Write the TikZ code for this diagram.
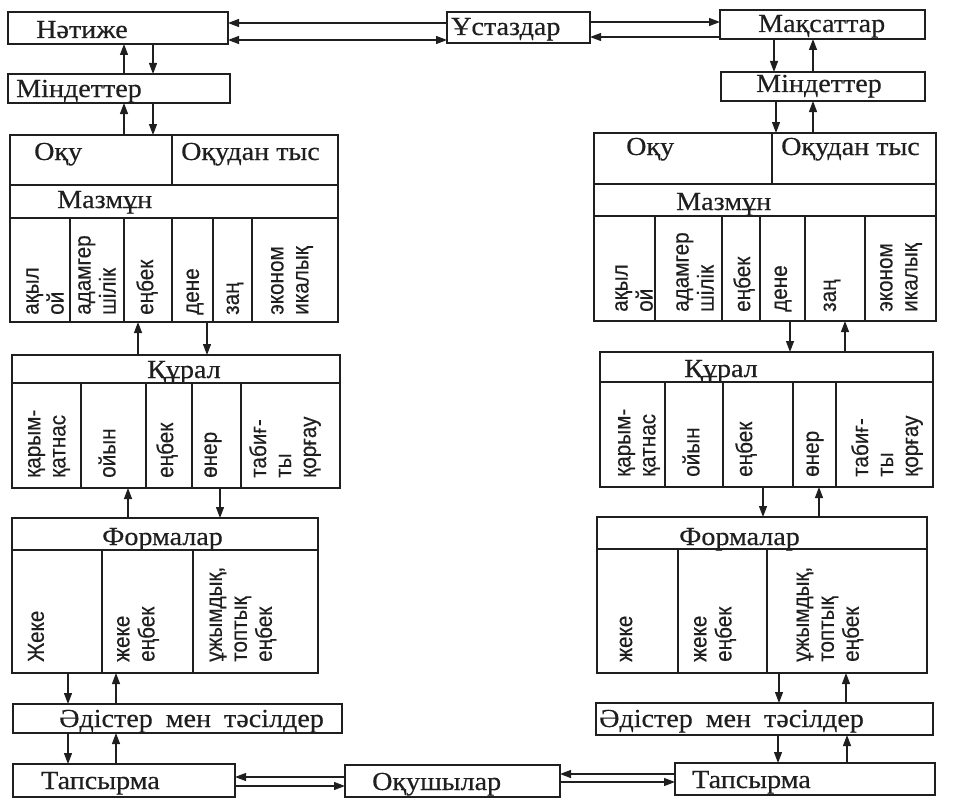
\documentclass[tikz,border=0pt]{standalone}
\usepackage{fontspec}
\setmainfont{Liberation Serif}
\newfontfamily\hfont[FakeStretch=1.08,FakeBold=0.4]{Liberation Serif}
\newfontfamily\vfont[FakeStretch=0.9,FakeBold=0.3]{Liberation Sans}
\usetikzlibrary{arrows.meta}
\definecolor{ink}{gray}{0.12}
\newcommand\bx[5]{\node[boxst, minimum width={(#4-#2)*1pt}, minimum height={(#5-#3)*1pt}] (#1) at ({(#2+#4)/2},{(#3+#5)/2}) {};}
\newcommand\hl[4]{\node[hlab] (#1) at (#2,#3) {#4};}
\newcommand\vl[4]{\node[vlab] (#1) at (#2,#3) {#4};}
\begin{document}
\begin{tikzpicture}[x=1pt,y=-1pt,
  boxst/.style={draw=ink, line width=1.4pt, inner sep=0pt, outer sep=0pt, rectangle},
  hlab/.style={anchor=base west, inner sep=0pt, font=\hfont\fontsize{26}{28}\selectfont, text=ink},
  vlab/.style={rotate=90, anchor=west, align=left, inner sep=0pt, font=\vfont\fontsize{23}{25}\selectfont, text=ink},
  arr/.style={draw=ink, line width=1.2pt, -{Triangle[length=11pt,width=8pt]}},
  darr/.style={draw=ink, line width=1.2pt, {Triangle[length=11pt,width=8pt]}-{Triangle[length=11pt,width=8pt]}}]
\useasboundingbox (0,0) rectangle (961,800);
% top row
\bx{nat}{8}{12}{228}{44}
\bx{ust}{447}{12}{590}{43}
\bx{maq}{720}{10}{925}{39}
\bx{min1}{8}{74}{230}{103}
\bx{min2}{721}{72}{925}{101}
\hl{tnat}{36}{38}{Нәтиже}
\hl{tust}{451}{35}{Ұстаздар}
\hl{tmaq}{758}{32}{Мақсаттар}
\hl{tmin1}{16}{97}{Міндеттер}
\hl{tmin2}{756}{92}{Міндеттер}
% left content block
\bx{g1}{10}{135}{338}{322}
\bx{oqu1}{10}{135}{172}{185}
\bx{tys1}{172}{135}{338}{185}
\bx{maz1}{10}{185}{338}{218}
\bx{m1a}{10}{218}{70}{322}
\bx{m1b}{70}{218}{124}{322}
\bx{m1c}{124}{218}{172}{322}
\bx{m1d}{172}{218}{213}{322}
\bx{m1e}{213}{218}{252}{322}
\bx{m1f}{252}{218}{338}{322}
\hl{toqu1}{34}{160}{Оқу}
\hl{ttys1}{181}{160}{Оқудан тыс}
\hl{tmaz1}{57}{208}{Мазмұн}
\vl{v1a}{45}{315}{ақыл\\ой}
\vl{v1b}{97}{315}{адамгер\\шілік}
\vl{v1c}{147}{315}{еңбек}
\vl{v1d}{195}{315}{дене}
\vl{v1e}{235}{315}{заң}
\vl{v1f}{292}{315}{эконом\\икалық}
% left tools block
\bx{g2}{12}{355}{340}{488}
\bx{qur1}{12}{355}{340}{383}
\bx{q1a}{12}{383}{81}{488}
\bx{q1b}{81}{383}{146}{488}
\bx{q1c}{146}{383}{192}{488}
\bx{q1d}{192}{383}{241}{488}
\bx{q1e}{241}{383}{340}{488}
\hl{tqur1}{147}{378}{Құрал}
\vl{w1a}{49}{478}{қарым-\\қатнас}
\vl{w1b}{107}{478}{ойын}
\vl{w1c}{167}{478}{еңбек}
\vl{w1d}{213}{478}{өнер}
\vl{w1e}{285}{478}{табиғ-\\ты\\қорғау}
% left forms block
\bx{g3}{12}{518}{318}{673}
\bx{frm1}{12}{518}{318}{550}
\bx{f1a}{12}{550}{102}{673}
\bx{f1b}{102}{550}{193}{673}
\bx{f1c}{193}{550}{318}{673}
\hl{tfrm1}{102}{545}{Формалар}
\vl{u1a}{36}{662}{Жеке}
\vl{u1b}{138}{662}{жеке\\еңбек}
\vl{u1c}{243}{662}{ұжымдық,\\топтық\\еңбек}
% left bottom
\bx{adi1}{13}{704}{342}{733}
\bx{tap1}{13}{764}{235}{797}
\hl{tadi1}{59}{727}{Әдістер\hspace{13pt}мен\hspace{13pt}тәсілдер}
\hl{ttap1}{41}{789}{Тапсырма}
% centre bottom
\bx{oqs}{345}{765}{560}{797}
\hl{toqs}{372}{790}{Оқушылар}
% right content block
\bx{h1}{594}{133}{936}{321}
\bx{oqu2}{594}{133}{772}{184}
\bx{tys2}{772}{133}{936}{184}
\bx{maz2}{594}{184}{936}{216}
\bx{m2a}{594}{216}{655}{321}
\bx{m2b}{655}{216}{722}{321}
\bx{m2c}{722}{216}{760}{321}
\bx{m2d}{760}{216}{805}{321}
\bx{m2e}{805}{216}{865}{321}
\bx{m2f}{865}{216}{936}{321}
\hl{toqu2}{626}{155}{Оқу}
\hl{ttys2}{781}{155}{Оқудан тыс}
\hl{tmaz2}{676}{210}{Мазмұн}
\vl{v2a}{634}{312}{ақыл\\ой}
\vl{v2b}{695}{312}{адамгер\\шілік}
\vl{v2c}{744}{312}{еңбек}
\vl{v2d}{783}{312}{дене}
\vl{v2e}{832}{312}{заң}
\vl{v2f}{901}{312}{эконом\\икалық}
% right tools block
\bx{h2}{600}{352}{933}{487}
\bx{qur2}{600}{352}{933}{382}
\bx{q2a}{600}{382}{665}{487}
\bx{q2b}{665}{382}{723}{487}
\bx{q2c}{723}{382}{793}{487}
\bx{q2d}{793}{382}{836}{487}
\bx{q2e}{836}{382}{933}{487}
\hl{tqur2}{684}{377}{Құрал}
\vl{w2a}{639}{477}{қарым-\\қатнас}
\vl{w2b}{691}{477}{ойын}
\vl{w2c}{746}{477}{еңбек}
\vl{w2d}{815}{477}{өнер}
\vl{w2e}{887}{477}{табиғ-\\ты\\қорғау}
% right forms block
\bx{h3}{597}{517}{927}{673}
\bx{frm2}{597}{517}{927}{549}
\bx{f2a}{597}{549}{678}{673}
\bx{f2b}{678}{549}{767}{673}
\bx{f2c}{767}{549}{927}{673}
\hl{tfrm2}{679}{545}{Формалар}
\vl{u2a}{626}{662}{жеке}
\vl{u2b}{715}{662}{жеке\\еңбек}
\vl{u2c}{830}{662}{ұжымдық,\\топтық\\еңбек}
% right bottom
\bx{adi2}{596}{703}{933}{735}
\bx{tap2}{675}{763}{935}{795}
\hl{tadi2}{599}{727}{Әдістер\hspace{13pt}мен\hspace{13pt}тәсілдер}
\hl{ttap2}{692}{788}{Тапсырма}
% top horizontal connectors
\draw[arr] (ust.west |- 0,23) -- (nat.east |- 0,23);
\draw[darr] (nat.east |- 0,40) -- (ust.west |- 0,40);
\draw[arr] (ust.east |- 0,22) -- (maq.west |- 0,22);
\draw[arr] (maq.west |- 0,37) -- (ust.east |- 0,37);
% left column connectors
\draw[arr] (nat.south -| 153,0) -- (min1.north -| 153,0);
\draw[arr] (min1.north -| 124,0) -- (nat.south -| 124,0);
\draw[arr] (min1.south -| 153,0) -- (g1.north -| 153,0);
\draw[arr] (g1.north -| 124,0) -- (min1.south -| 124,0);
\draw[arr] (g1.south -| 207,0) -- (g2.north -| 207,0);
\draw[arr] (g2.north -| 138,0) -- (g1.south -| 138,0);
\draw[arr] (g2.south -| 220,0) -- (g3.north -| 220,0);
\draw[arr] (g3.north -| 128,0) -- (g2.south -| 128,0);
\draw[arr] (g3.south -| 68,0) -- (adi1.north -| 68,0);
\draw[arr] (adi1.north -| 116,0) -- (g3.south -| 116,0);
\draw[arr] (adi1.south -| 68,0) -- (tap1.north -| 68,0);
\draw[arr] (tap1.north -| 116,0) -- (adi1.south -| 116,0);
% bottom horizontal connectors
\draw[arr] (oqs.west |- 0,777) -- (tap1.east |- 0,777);
\draw[arr] (tap1.east |- 0,786) -- (oqs.west |- 0,786);
\draw[arr] (tap2.west |- 0,774) -- (oqs.east |- 0,774);
\draw[arr] (oqs.east |- 0,782) -- (tap2.west |- 0,782);
% right column connectors
\draw[arr] (maq.south -| 774,0) -- (min2.north -| 774,0);
\draw[arr] (min2.north -| 813,0) -- (maq.south -| 813,0);
\draw[arr] (min2.south -| 776,0) -- (h1.north -| 776,0);
\draw[arr] (h1.north -| 813,0) -- (min2.south -| 813,0);
\draw[arr] (h1.south -| 790,0) -- (h2.north -| 790,0);
\draw[arr] (h2.north -| 845,0) -- (h1.south -| 845,0);
\draw[arr] (h2.south -| 763,0) -- (h3.north -| 763,0);
\draw[arr] (h3.north -| 819,0) -- (h2.south -| 819,0);
\draw[arr] (h3.south -| 779,0) -- (adi2.north -| 779,0);
\draw[arr] (adi2.north -| 846,0) -- (h3.south -| 846,0);
\draw[arr] (adi2.south -| 778,0) -- (tap2.north -| 778,0);
\draw[arr] (tap2.north -| 847,0) -- (adi2.south -| 847,0);
\end{tikzpicture}
\end{document}
